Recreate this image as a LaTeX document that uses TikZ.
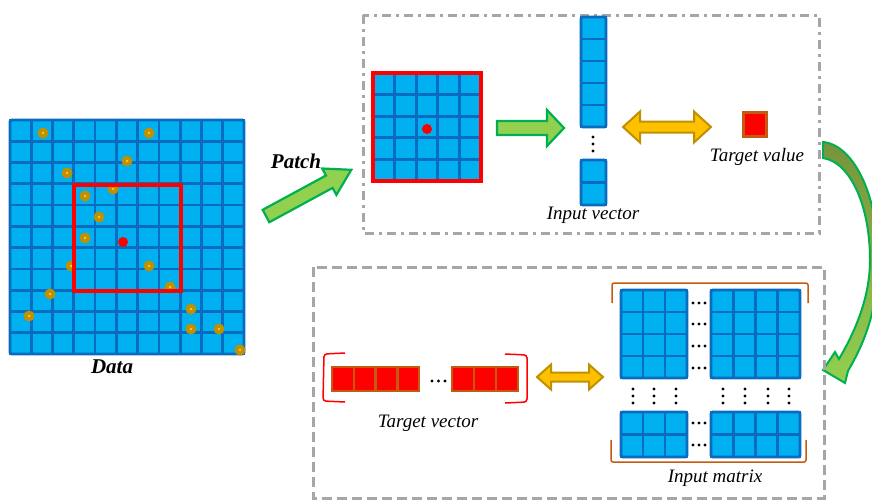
\documentclass[tikz,border=0pt]{standalone}
\usepackage{fontspec}
\setmainfont{Liberation Serif}
\definecolor{cellfill}{RGB}{0,176,240}
\definecolor{cellline}{RGB}{10,108,190}
\definecolor{goldc}{RGB}{191,144,0}
\definecolor{goldin}{RGB}{255,204,40}
\definecolor{grfill}{RGB}{146,208,80}
\definecolor{grline}{RGB}{0,176,80}
\definecolor{olivec}{RGB}{119,147,60}
\definecolor{yelfill}{RGB}{255,192,0}
\definecolor{yelline}{RGB}{191,144,0}
\definecolor{orangec}{RGB}{197,90,17}
\definecolor{grayc}{RGB}{166,166,166}
\newcommand\myblock[6]{%
  \foreach \ci in {1,...,#3}{\foreach \ri in {1,...,#4}{
    \draw[cellst] ({#1+(\ci-1)*#5},{#2+(\ri-1)*#6}) rectangle ++(#5,#6);}}
  \draw[cellst,fill=none,rounded corners=1.5] (#1,#2) rectangle ++({#3*#5},{#4*#6});
}
\begin{document}
\begin{tikzpicture}[x=1pt,y=-1pt,
  cellst/.style={fill=cellfill,draw=cellline,line width=2.8},
  redcell/.style={fill=red,draw=orangec,line width=2.5},
  greenarrow/.style={fill=grfill,draw=grline,line width=2.2,line join=miter},
  yelarrow/.style={fill=yelfill,draw=yelline,line width=2,line join=miter},
  lab/.style={font=\fontsize{19}{21}\selectfont\itshape,inner sep=0pt},
  blab/.style={font=\fontsize{21}{23}\selectfont\bfseries\itshape,inner sep=0pt},
  bdot/.style={fill=black},
  dashdotbox/.style={draw=grayc,line width=3,dash pattern=on 9pt off 5pt on 3pt off 5pt},
  dashbox/.style={draw=grayc,line width=3,dash pattern=on 10pt off 5pt},
]
\useasboundingbox (0,0) rectangle (872,501);

% ---------- Data grid ----------
\myblock{10}{120}{11}{11}{21.2727}{21.2727}
\foreach \x/\y in {43/133,149/133,127/161,67/173,85/196,113/189,99/217,85/238,71/266,149/266,170/287,50/294,29/316,191/309,191/329,219/329,240/350}{
  \fill[goldc] (\x,\y) circle (5.5);
  \fill[goldin] (\x,\y) circle (1.3);
}
\draw[red,line width=3.5] (74,185) rectangle (181,291);
\fill[red] (123,242) circle (5);
\node[blab] (data) at (112,367) {Data};

% ---------- Patch arrow ----------
\node[blab] (patch) at (296,161) {Patch};
\draw[greenarrow] (269.3,222.2) -- (262.7,209.8) -- (326.0,175.5) -- (322.2,168.5) -- (351.3,169.8) -- (336.4,194.9) -- (332.6,187.9) -- cycle;

% ---------- Top box ----------
\draw[dashdotbox] (363,15) rectangle (819,233);
\myblock{373}{73}{5}{5}{21.6}{21.6}
\draw[red,line width=3.5] (373,73) rectangle (481,181);
\fill[red] (427,129) circle (5);

\draw[greenarrow] (497,121) -- (547,121) -- (547,110) -- (564,128) -- (547,146) -- (547,135) -- (497,135) -- cycle;

\myblock{581}{17}{1}{5}{25}{22}
\myblock{581}{160}{1}{2}{25}{22.5}
\foreach \y in {137,144,151} \fill[bdot] (593,\y) circle (1.6);
\node[lab] (invec) at (593,215) {Input vector};

\draw[yelarrow] (623,127) -- (640,111.5) -- (640,121.5) -- (694,121.5) -- (694,111.5) -- (711,127) -- (694,142.5) -- (694,132.5) -- (640,132.5) -- (640,142.5) -- cycle;

\draw[redcell] (743.5,112.5) rectangle (766.5,136.5);
\node[lab] (tval) at (757,157) {Target value};

% ---------- Curved arrow ----------
\shadedraw[top color=olivec,bottom color=grfill,draw=grline,line width=2,line join=miter]
  (823,142) .. controls (855,145) and (880,200) .. (878,265)
  .. controls (877,318) and (860,350) .. (848,371)
  -- (845,383) -- (823,370) -- (835,352) -- (839,359)
  .. controls (853,335) and (870,300) .. (870,260)
  .. controls (870,205) and (850,162) .. (823,158) -- cycle;

% ---------- Bottom box ----------
\draw[dashbox] (313,267) rectangle (824,498);

\foreach \i in {0,...,3} \draw[redcell] ({332+\i*21.75},367) rectangle ++(21.75,24);
\foreach \i in {0,...,2} \draw[redcell] ({452+\i*22},367) rectangle ++(22,24);
\foreach \x in {432,438.5,445} \fill[bdot] (\x,381) circle (1.7);
\draw[red,line width=1.5,rounded corners=3] (345,353) -- (324,354) -- (323,401) -- (345,402);
\draw[red,line width=1.5,rounded corners=3] (505,354) -- (527,355) -- (527,402) -- (505,403);
\node[lab] (tvec) at (428,423) {Target vector};

\draw[yelarrow] (537,377) -- (551,364.5) -- (551,372.5) -- (589,372.5) -- (589,364.5) -- (603,377) -- (589,389.5) -- (589,381.5) -- (551,381.5) -- (551,389.5) -- cycle;

% ---------- Input matrix ----------
\myblock{621}{290}{3}{4}{22}{22}
\myblock{711}{290}{4}{4}{22.25}{22}
\myblock{621}{412}{3}{2}{22}{22.5}
\myblock{711}{412}{4}{2}{22.25}{22.5}
\foreach \y in {303,324,346,368,423,445}
  \foreach \x in {693,699,705} \fill[bdot] (\x,\y) circle (1.6);
\foreach \x in {633,654,676,723,745,768,789}
  \foreach \y in {389,396,403} \fill[bdot] (\x,\y) circle (1.6);
\draw[orangec,line width=1.5,rounded corners=2] (612,303) -- (612,283) -- (808,283) -- (808,303);
\draw[orangec,line width=1.5,rounded corners=2] (611,440) -- (611,462) -- (806,462) -- (806,440);
\node[lab] (inmat) at (715,478) {Input matrix};
\end{tikzpicture}
\end{document}
